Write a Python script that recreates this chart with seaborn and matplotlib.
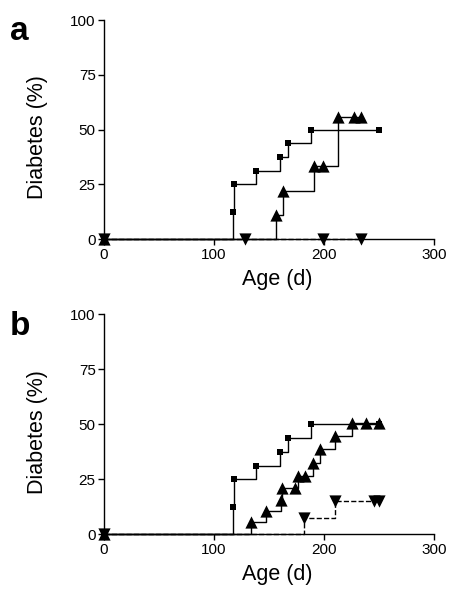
import numpy as np
import pandas as pd
import matplotlib
matplotlib.use("Agg")
import matplotlib.pyplot as plt
import seaborn as sns

sns.set_style("ticks")
plt.rcParams['font.family'] = ['Liberation Sans', 'DejaVu Sans']
plt.rcParams['text.color'] = 'black'
plt.rcParams['axes.labelcolor'] = 'black'
plt.rcParams['xtick.color'] = 'black'
plt.rcParams['ytick.color'] = 'black'

# ---- data (days, % diabetes) ----
a_sq_day = [0, 117, 118, 138, 160, 167, 188, 250]
a_sq_pct = [0, 12.5, 25, 31.25, 37.5, 43.75, 50, 50]
a_up_day = [0, 156, 163, 191, 199, 213, 227, 234]
a_up_pct = [0, 11.1, 22.2, 33.3, 33.3, 55.6, 55.6, 55.6]
a_dn_day = [0, 128, 199, 234]
a_dn_pct = [0, 0, 0, 0]

b_sq_day = [0, 117, 118, 138, 160, 167, 188, 250]
b_sq_pct = [0, 12.5, 25, 31.25, 37.5, 43.75, 50, 50]
b_up_day = [0, 134, 147, 161, 162, 174, 176, 183, 190, 196, 210, 225, 238, 250]
b_up_pct = [0, 5.6, 10.6, 15.8, 21.0, 21.0, 26.3, 26.3, 32.5, 38.6, 44.7, 50.8, 50.8, 50.8]
b_dn_day = [0, 182, 210, 245, 250]
b_dn_pct = [0, 7.3, 15.2, 15.2, 15.2]

x_ticks = [0, 100, 200, 300]
y_ticks = [0, 25, 50, 75, 100]
panel_labels = ['a', 'b']

W, H = 453, 591
fig = plt.figure(figsize=(W / 100, H / 100), dpi=100)

def frac(px_left, px_top, px_right, px_bottom):
    return [px_left / W, 1 - px_bottom / H, (px_right - px_left) / W, (px_bottom - px_top) / H]

axes = [fig.add_axes(frac(104, 20, 434, 239.3)), fig.add_axes(frac(104, 314.3, 434, 534.3))]

panels = [
    [(a_sq_day, a_sq_pct, 's', 4.6, '-'), (a_up_day, a_up_pct, '^', 8.8, '-'), (a_dn_day, a_dn_pct, 'v', 8.8, '--')],
    [(b_sq_day, b_sq_pct, 's', 4.6, '-'), (b_up_day, b_up_pct, '^', 8.8, '-'), (b_dn_day, b_dn_pct, 'v', 8.8, '--')],
]

for ax, series, lab, ptop in zip(axes, panels, panel_labels, [20, 314.3]):
    for days, pct, mk, ms, ls in series:
        df = pd.DataFrame({'day': days, 'pct': pct})
        sns.lineplot(data=df, x='day', y='pct', estimator=None, sort=False, ax=ax,
                     color='black', linewidth=1.0, linestyle=ls, drawstyle='steps-post')
        sns.scatterplot(data=df, x='day', y='pct', marker=mk, s=ms ** 2, color='black',
                        edgecolor='black', linewidth=0, ax=ax, clip_on=False, zorder=5)
    for line in ax.lines:
        line.set_clip_on(False)
    for c in ax.collections:
        c.set_clip_on(False)
    ax.set_xlim(0, 300)
    ax.set_ylim(0, 100)
    ax.set_xticks(x_ticks)
    ax.set_yticks(y_ticks)
    ax.tick_params(axis='both', labelsize=11, length=4, width=1, color='black',
                   labelcolor='black', pad=2)
    sns.despine(ax=ax)
    for s in ['left', 'bottom']:
        ax.spines[s].set_linewidth(1.0)
        ax.spines[s].set_color('black')
    ax.set_xlabel('Age (d)', fontsize=15.5, color='black')
    ax.set_ylabel('Diabetes (%)', fontsize=15.5, color='black')
    ax.xaxis.set_label_coords(0.524, -0.135)
    ax.yaxis.set_label_coords(-0.17, 0.464)
    fig.text(10 / W, 1 - (ptop + 12) / H, lab, fontsize=24, fontweight='bold',
             va='center', ha='left', color='black')

fig.savefig('out.png', dpi=100)
